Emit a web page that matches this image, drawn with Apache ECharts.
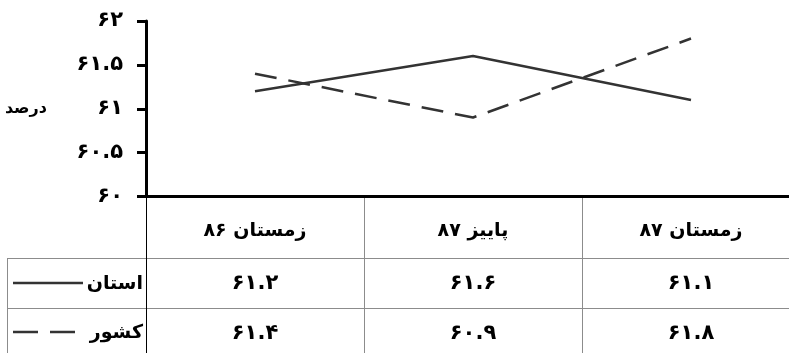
<!DOCTYPE html>
<html>
<head>
<meta charset="utf-8">
<script src="https://cdn.jsdelivr.net/npm/echarts@6/dist/echarts.min.js"></script>
<style>
  html, body { margin: 0; padding: 0; background: #fff; }
  #main { width: 789px; height: 353px; }
</style>
</head>
<body>
<div id="main"></div>
<script>
// data
var categories = ['زمستان 86', 'پاییز 87', 'زمستان 87'];
var ostan = [61.2, 61.6, 61.1];   // استان
var keshvar = [61.4, 60.9, 61.8]; // کشور
var seriesNames = ['استان', 'کشور'];
var yTicks = [60, 60.5, 61, 61.5, 62];

// persian digits
function toFa(v) {
    return String(v).replace(/\d/g, function (d) { return '۰۱۲۳۴۵۶۷۸۹'[d]; });
}

var font = 'DejaVu Sans';
var labelStyle = { color: '#000', fontFamily: font, fontWeight: 'bold', fontSize: 19 };
var numStyle = Object.assign({}, labelStyle, { fontSize: 21 });
var gray = '#8c8c8c';
var lineColor = '#333';

var myChart = echarts.init(document.getElementById('main'));

function rowAxis(values, margin) {
    return {
        type: 'category', gridIndex: 0, position: 'bottom', data: categories,
        axisLine: { show: false }, axisTick: { show: false },
        axisLabel: Object.assign({
            margin: margin, interval: 0,
            formatter: function (v, i) { return toFa(values[i]); }
        }, numStyle)
    };
}

var option = {
    animation: false,
    grid: [
        { left: 146, top: 21, right: -11, bottom: 156.5, outerBoundsMode: 'none' },
        { left: 146, top: 196.5, right: -11, bottom: -10, outerBoundsMode: 'none' }
    ],
    xAxis: [
        {
            type: 'category', gridIndex: 0, data: categories, boundaryGap: true,
            axisLine: { lineStyle: { color: '#000', width: 3 } },
            axisTick: { show: false },
            axisLabel: Object.assign({
                margin: 25, interval: 0,
                formatter: function (v) { return toFa(v); }
            }, labelStyle)
        },
        rowAxis(ostan, 77),
        rowAxis(keshvar, 127),
        {
            type: 'category', gridIndex: 1, data: categories, boundaryGap: true,
            axisLine: { show: false }, axisTick: { show: false }, axisLabel: { show: false },
            splitLine: { show: true, interval: 0, lineStyle: { color: gray, width: 1 } }
        }
    ],
    yAxis: [
        {
            type: 'value', gridIndex: 0, min: 60, max: 62, interval: 0.5,
            name: 'درصد', nameLocation: 'middle', nameRotate: 0, nameGap: 99,
            nameTextStyle: Object.assign({}, labelStyle, { align: 'right', fontSize: 16 }),
            axisLine: { show: true, lineStyle: { color: '#000', width: 3 } },
            axisTick: { show: true, length: 9, lineStyle: { color: '#000', width: 3 } },
            axisLabel: Object.assign({
                margin: 23,
                formatter: function (v) { return yTicks.indexOf(v) >= 0 ? toFa(v) : ''; }
            }, numStyle),
            splitLine: { show: false }
        },
        {
            type: 'value', gridIndex: 1, min: 0, max: 1,
            axisLine: { show: true, lineStyle: { color: '#000', width: 1 } },
            axisTick: { show: false }, axisLabel: { show: false }, splitLine: { show: false }
        }
    ],
    series: [
        {
            name: seriesNames[0], type: 'line', data: ostan, symbol: 'none',
            lineStyle: { color: lineColor, width: 2.5 }
        },
        {
            name: seriesNames[1], type: 'line', data: keshvar, symbol: 'none',
            lineStyle: { color: lineColor, width: 2.5, type: [22, 12] }
        }
    ],
    graphic: [
        // table rules
        { type: 'line', shape: { x1: 7, y1: 258.5, x2: 789, y2: 258.5 }, style: { stroke: gray, lineWidth: 1 } },
        { type: 'line', shape: { x1: 7, y1: 308.5, x2: 789, y2: 308.5 }, style: { stroke: gray, lineWidth: 1 } },
        { type: 'line', shape: { x1: 7.5, y1: 258, x2: 7.5, y2: 353 }, style: { stroke: gray, lineWidth: 1 } },
        // legend keys
        { type: 'line', shape: { x1: 13, y1: 283, x2: 83, y2: 283 }, style: { stroke: lineColor, lineWidth: 2.5 } },
        { type: 'line', shape: { x1: 13, y1: 332, x2: 75, y2: 332 }, style: { stroke: lineColor, lineWidth: 2.5, lineDash: [25, 12] } },
        { type: 'text', x: 143, y: 284, style: Object.assign({}, labelStyle, { text: seriesNames[0], align: 'right', verticalAlign: 'middle', fill: '#000' }) },
        { type: 'text', x: 143, y: 333, style: Object.assign({}, labelStyle, { text: seriesNames[1], align: 'right', verticalAlign: 'middle', fill: '#000' }) }
    ]
};

myChart.setOption(option);
</script>
</body>
</html>
